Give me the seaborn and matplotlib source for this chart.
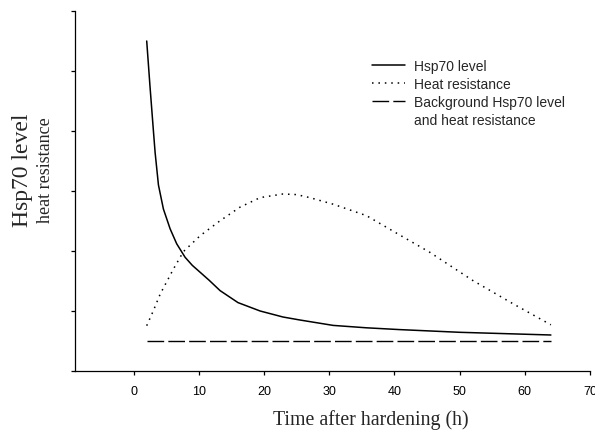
import matplotlib
matplotlib.use("Agg")
import matplotlib.pyplot as plt
from matplotlib.lines import Line2D
import seaborn as sns
import pandas as pd

# ---- data ----
hsp_time = [2, 2.5, 3.03, 3.29, 3.8, 4.56, 5.59, 6.6, 7.89, 9.0, 10.2, 11.6, 13.25,
            16.0, 19.4, 22.9, 25.5, 30.6, 35.7, 40.8, 50, 64]
hsp_level = [5.5, 4.75, 4.0, 3.64, 3.1, 2.7, 2.37, 2.12, 1.895, 1.76, 1.645, 1.51, 1.34,
             1.14, 1.0, 0.9, 0.85, 0.76, 0.72, 0.69, 0.645, 0.60]

res_time = [2, 3, 4.06, 6.1, 7.63, 10.2, 13.2, 16.3, 19.4, 22.9, 25, 27, 30.6, 35.7,
            40.6, 45.4, 52, 58.2, 64]
res_level = [0.755, 1.0, 1.28, 1.7, 1.99, 2.255, 2.5, 2.73, 2.89, 2.95, 2.94, 2.89, 2.78,
             2.59, 2.28, 1.98, 1.51, 1.12, 0.77]

bg_time = [2, 64]
bg_level = [0.5, 0.5]

x_ticks = [0, 10, 20, 30, 40, 50, 60, 70]
y_ticks = [0, 1, 2, 3, 4, 5, 6]

labels = ["Hsp70 level", "Heat resistance", "Background Hsp70 level", "and heat resistance"]

# ---- style ----
sns.set_style("ticks")
plt.rcParams["font.family"] = ["Liberation Sans", "DejaVu Sans"]

W, H = 595, 431
fig = plt.figure(figsize=(W / 100, H / 100), dpi=100)
ax = fig.add_axes([75 / W, (H - 372) / H, 515 / W, 360 / H])

df_hsp = pd.DataFrame({"t": hsp_time, "v": hsp_level})
df_res = pd.DataFrame({"t": res_time, "v": res_level})
df_bg = pd.DataFrame({"t": bg_time, "v": bg_level})

sns.lineplot(data=df_hsp, x="t", y="v", color="black", lw=1.1, ax=ax,
             estimator=None, sort=False, label=labels[0])
sns.lineplot(data=df_res, x="t", y="v", color="black", lw=1.1, ax=ax,
             estimator=None, sort=False, linestyle=(0, (1, 3.2)), label=labels[1])
sns.lineplot(data=df_bg, x="t", y="v", color="black", lw=1.0, ax=ax,
             estimator=None, sort=False, linestyle=(0, (12, 3)), label=labels[2])

ax.set_xlim(-9, 70)
ax.set_ylim(0, 6)
ax.set_xticks(x_ticks)
ax.set_xticklabels([str(v) for v in x_ticks])
ax.set_yticks(y_ticks)
ax.set_yticklabels([])
ax.set_xlabel("")
ax.set_ylabel("")

for s in ["top", "right"]:
    ax.spines[s].set_visible(False)
for s in ["left", "bottom"]:
    ax.spines[s].set_linewidth(0.9)
    ax.spines[s].set_color("black")

ax.tick_params(axis="both", direction="out", length=3, width=0.9, color="black")
ax.tick_params(axis="x", labelsize=9, pad=7, labelcolor="black")

# axis labels
serif = ["Liberation Serif", "DejaVu Serif"]
fig.text(371 / W, 1 - 425 / H, "Time after hardening (h)", ha="center", va="baseline",
         fontsize=14.3, family=serif)
fig.text(28 / W, 1 - 170 / H, "Hsp70 level", ha="center", va="baseline",
         rotation=90, rotation_mode="anchor", fontsize=17, family=serif)
fig.text(50 / W, 1 - 170.5 / H, "heat resistance", ha="center", va="baseline",
         rotation=90, rotation_mode="anchor", fontsize=13, family=serif)

# legend
handles, _ = ax.get_legend_handles_labels()
handles = list(handles) + [Line2D([], [], linestyle="none")]
leg = ax.legend(handles, labels, loc="upper left",
                bbox_to_anchor=(372 / W, 1 - 60 / H), bbox_transform=fig.transFigure,
                frameon=False, borderpad=0, borderaxespad=0, handlelength=2.4,
                handletextpad=0.6, labelspacing=0.3, prop={"size": 10})

fig.savefig("out.png", dpi=100)
